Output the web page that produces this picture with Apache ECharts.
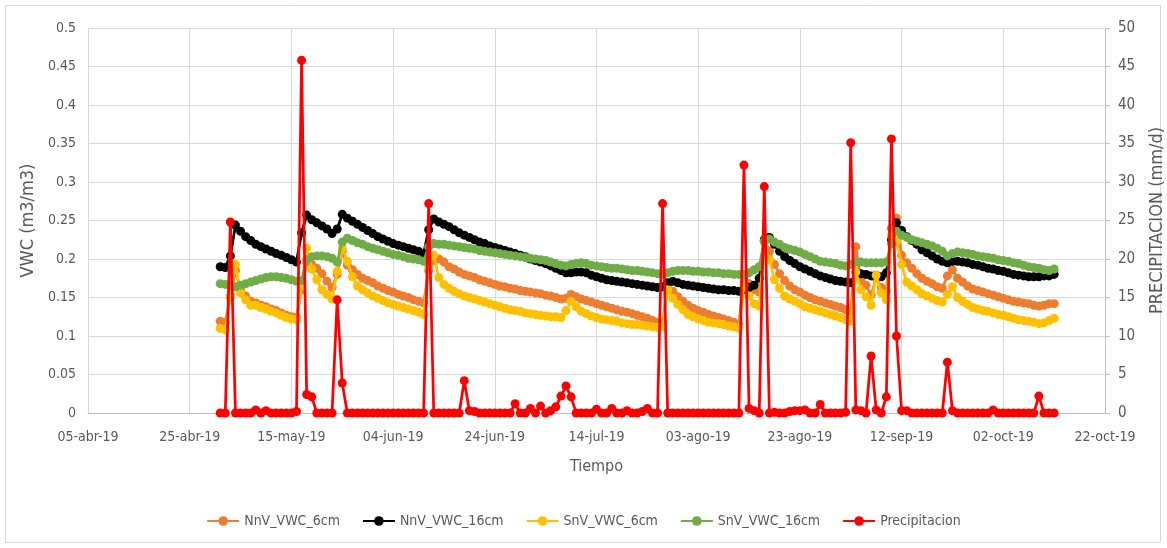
<!DOCTYPE html>
<html>
<head>
<meta charset="utf-8">
<script src="https://cdn.jsdelivr.net/npm/echarts@6/dist/echarts.min.js"></script>
<style>
html,body{margin:0;padding:0;background:#fff;}
#chart{width:1167px;height:548px;}
</style>
</head>
<body>
<div id="chart"></div>
<script>
// Axis origin and first data day
const axisStart = '2019-04-05';
const dataStart = '2019-05-01';

// x tick labels (every 20 days from axisStart)
const xTickLabels = ['05-abr-19','25-abr-19','15-may-19','04-jun-19','24-jun-19','14-jul-19','03-ago-19','23-ago-19','12-sep-19','02-oct-19','22-oct-19'];

const seriesNames = ['NnV_VWC_6cm','NnV_VWC_16cm','SnV_VWC_6cm','SnV_VWC_16cm','Precipitacion'];

// Daily values from 2019-05-01 to 2019-10-12
const nnv6 = [
0.119,0.118,0.150,0.185,0.160,0.152,0.145,0.143,0.140,0.138,
0.135,0.133,0.130,0.127,0.125,0.124,0.160,0.195,0.193,0.188,
0.181,0.171,0.163,0.180,0.210,0.192,0.186,0.180,0.175,0.172,
0.169,0.165,0.162,0.159,0.157,0.154,0.152,0.150,0.147,0.145,
0.143,0.185,0.198,0.200,0.196,0.190,0.187,0.183,0.180,0.178,
0.176,0.173,0.171,0.169,0.167,0.165,0.164,0.162,0.161,0.159,
0.158,0.157,0.156,0.155,0.153,0.152,0.150,0.148,0.149,0.154,
0.151,0.148,0.146,0.144,0.142,0.140,0.138,0.136,0.134,0.132,
0.131,0.129,0.127,0.125,0.123,0.120,0.118,0.116,0.167,0.158,
0.151,0.145,0.140,0.136,0.133,0.131,0.128,0.126,0.124,0.122,
0.120,0.118,0.115,0.180,0.168,0.160,0.157,0.226,0.210,0.193,
0.181,0.172,0.165,0.160,0.157,0.153,0.150,0.147,0.145,0.143,
0.141,0.139,0.137,0.134,0.132,0.216,0.172,0.166,0.153,0.175,
0.163,0.158,0.240,0.253,0.205,0.195,0.188,0.181,0.175,0.171,
0.168,0.164,0.162,0.178,0.186,0.175,0.170,0.165,0.161,0.159,
0.157,0.155,0.153,0.151,0.149,0.147,0.145,0.144,0.143,0.142,
0.140,0.139,0.140,0.142,0.142];

const nnv16 = [
0.190,0.189,0.204,0.244,0.236,0.229,0.224,0.219,0.216,0.213,
0.210,0.207,0.205,0.202,0.199,0.196,0.234,0.257,0.251,0.247,
0.243,0.239,0.233,0.239,0.258,0.253,0.249,0.245,0.241,0.237,
0.233,0.229,0.226,0.223,0.220,0.218,0.216,0.214,0.212,0.210,
0.207,0.238,0.252,0.248,0.245,0.242,0.238,0.234,0.231,0.228,
0.225,0.222,0.220,0.217,0.215,0.213,0.211,0.209,0.207,0.205,
0.203,0.200,0.198,0.196,0.194,0.191,0.188,0.185,0.182,0.182,
0.183,0.183,0.182,0.179,0.177,0.175,0.173,0.172,0.171,0.170,
0.169,0.168,0.167,0.166,0.165,0.164,0.163,0.164,0.169,0.171,
0.169,0.167,0.166,0.165,0.164,0.163,0.162,0.161,0.160,0.160,
0.159,0.159,0.158,0.160,0.163,0.166,0.175,0.224,0.228,0.219,
0.210,0.203,0.198,0.194,0.190,0.187,0.184,0.181,0.178,0.176,
0.174,0.172,0.171,0.170,0.169,0.183,0.181,0.180,0.178,0.179,
0.177,0.182,0.225,0.247,0.237,0.229,0.224,0.219,0.212,0.208,
0.204,0.200,0.197,0.195,0.197,0.197,0.196,0.195,0.193,0.192,
0.190,0.188,0.187,0.185,0.184,0.182,0.180,0.179,0.178,0.177,
0.177,0.177,0.178,0.178,0.180];

const snv6 = [
0.110,0.108,0.153,0.193,0.156,0.147,0.140,0.140,0.137,0.135,
0.132,0.130,0.127,0.124,0.122,0.121,0.165,0.214,0.187,0.173,
0.160,0.154,0.148,0.184,0.214,0.197,0.177,0.165,0.160,0.156,
0.152,0.149,0.146,0.143,0.141,0.139,0.137,0.135,0.133,0.131,
0.128,0.190,0.205,0.176,0.167,0.162,0.158,0.155,0.152,0.150,
0.148,0.146,0.144,0.142,0.140,0.138,0.136,0.134,0.133,0.132,
0.130,0.129,0.128,0.127,0.126,0.125,0.125,0.124,0.133,0.145,
0.138,0.132,0.129,0.126,0.124,0.122,0.121,0.120,0.119,0.117,
0.116,0.115,0.115,0.114,0.113,0.112,0.111,0.112,0.160,0.149,
0.141,0.134,0.128,0.125,0.122,0.120,0.118,0.117,0.116,0.115,
0.113,0.112,0.110,0.165,0.152,0.142,0.139,0.222,0.199,0.173,
0.162,0.152,0.148,0.145,0.142,0.138,0.136,0.134,0.132,0.130,
0.128,0.126,0.124,0.121,0.119,0.183,0.160,0.151,0.140,0.179,
0.156,0.147,0.230,0.223,0.193,0.170,0.165,0.160,0.155,0.152,
0.149,0.146,0.144,0.154,0.164,0.150,0.145,0.141,0.137,0.135,
0.133,0.132,0.130,0.128,0.127,0.125,0.123,0.121,0.120,0.119,
0.118,0.116,0.117,0.120,0.123];

const snv16 = [
0.168,0.167,0.165,0.164,0.166,0.168,0.170,0.172,0.174,0.176,
0.177,0.177,0.176,0.175,0.173,0.171,0.172,0.199,0.203,0.204,
0.204,0.203,0.201,0.196,0.222,0.227,0.224,0.221,0.219,0.216,
0.214,0.212,0.210,0.208,0.206,0.205,0.203,0.201,0.200,0.199,
0.197,0.216,0.220,0.219,0.219,0.218,0.217,0.216,0.215,0.214,
0.213,0.211,0.210,0.209,0.208,0.207,0.206,0.205,0.204,0.203,
0.202,0.201,0.200,0.199,0.198,0.196,0.194,0.192,0.191,0.193,
0.194,0.195,0.194,0.192,0.191,0.190,0.189,0.188,0.188,0.187,
0.186,0.185,0.185,0.184,0.183,0.182,0.181,0.180,0.182,0.184,
0.185,0.185,0.185,0.184,0.184,0.183,0.183,0.182,0.182,0.181,
0.181,0.180,0.180,0.179,0.182,0.186,0.190,0.223,0.226,0.222,
0.219,0.215,0.213,0.211,0.209,0.206,0.203,0.200,0.197,0.196,
0.195,0.194,0.192,0.191,0.193,0.196,0.196,0.195,0.195,0.195,
0.195,0.196,0.220,0.236,0.231,0.228,0.225,0.223,0.221,0.219,
0.217,0.214,0.210,0.204,0.207,0.209,0.208,0.207,0.206,0.204,
0.203,0.202,0.201,0.199,0.198,0.197,0.195,0.194,0.192,0.190,
0.189,0.188,0.186,0.185,0.187];

const precip = [
0,0,24.8,0,0,0,0,0.4,0,0.3,
0,0,0,0,0,0.2,45.8,2.4,2.1,0,
0,0,0,14.7,3.9,0,0,0,0,0,
0,0,0,0,0,0,0,0,0,0,
0,27.2,0,0,0,0,0,0,4.2,0.3,
0.2,0,0,0,0,0,0,0,1.2,0,
0,0.6,0,0.9,0,0.3,0.8,2.2,3.5,2.1,
0,0,0,0,0.5,0,0,0.6,0,0,
0.3,0,0,0.2,0.6,0,0,27.2,0,0,
0,0,0,0,0,0,0,0,0,0,
0,0,0,32.2,0.6,0.3,0,29.4,0,0.1,
0,0,0.2,0.3,0.3,0.4,0,0,1.1,0,
0,0,0,0.1,35.1,0.4,0.3,0,7.4,0.4,
0,2.1,35.6,10.0,0.3,0.3,0,0,0,0,
0,0,0,6.6,0.3,0,0,0,0,0,
0,0,0.4,0,0,0,0,0,0,0,
0,2.2,0,0,0];

const colors = ['#ED7D31','#000000','#FFC000','#70AD47','#FF0000'];

const DAY = 86400000;
const offset0 = Math.round((Date.parse(dataStart) - Date.parse(axisStart)) / DAY);
function pairs(arr){ return arr.map((v,i)=>[offset0+i, v]); }

const FONT = "'Liberation Sans Narrow','DejaVu Sans Condensed',sans-serif";
const TXT = '#595959';

const chart = echarts.init(document.getElementById('chart'), null, {renderer:'canvas'});
const allData = [nnv6, nnv16, snv6, snv16, precip];
const series = allData.map((arr, k) => ({
  name: seriesNames[k],
  type: 'line',
  yAxisIndex: k === 4 ? 1 : 0,
  data: pairs(arr),
  symbol: 'circle',
  symbolSize: 9,
  showAllSymbol: true,
  lineStyle: {width: 2.75, color: colors[k]},
  itemStyle: {color: colors[k]},
  z: 2 + k,
  animation: false
}));

chart.setOption({
  animation: false,
  textStyle: {fontFamily: FONT},
  graphic: [{
    type: 'rect', silent: true,
    shape: {x: 5.5, y: 5.5, width: 1155, height: 537},
    style: {fill: 'none', stroke: '#d9d9d9', lineWidth: 1}
  }],
  grid: {left: 88, right: 62, top: 28, bottom: 135, containLabel: false, outerBoundsMode: 'none'},
  legend: {
    bottom: 15, left: 'center',
    itemWidth: 32, itemHeight: 12, itemGap: 22,
    textStyle: {color: TXT, fontSize: 14, fontFamily: FONT},
    data: seriesNames
  },
  xAxis: {
    type: 'value', min: 0, max: 200, interval: 20,
    name: 'Tiempo', nameLocation: 'middle', nameGap: 46,
    nameTextStyle: {color: TXT, fontSize: 16, fontFamily: FONT},
    axisLine: {show: true, lineStyle: {color: '#bfbfbf', width: 1}},
    axisTick: {show: false},
    splitLine: {show: true, lineStyle: {color: '#d9d9d9', width: 1}},
    axisLabel: {
      color: TXT, fontSize: 14, margin: 17, fontFamily: FONT,
      formatter: v => xTickLabels[Math.round(v / 20)] || ''
    }
  },
  yAxis: [{
    type: 'value', min: 0, max: 0.5, interval: 0.05,
    name: 'VWC (m3/m3)', nameLocation: 'middle', nameGap: 44, nameRotate: 90,
    nameTextStyle: {color: TXT, fontSize: 18, fontFamily: FONT},
    axisLine: {show: false}, axisTick: {show: false},
    splitLine: {show: true, lineStyle: {color: '#d9d9d9', width: 1}},
    axisLabel: {color: TXT, fontSize: 14, margin: 12, fontFamily: FONT,
      formatter: v => String(Math.round(v * 100) / 100)}
  }, {
    type: 'value', min: 0, max: 50, interval: 5, position: 'right',
    name: 'PRECIPITACION (mm/d)', nameLocation: 'middle', nameGap: 43, nameRotate: 90,
    nameMoveOverlap: false,
    nameTextStyle: {color: TXT, fontSize: 18, fontFamily: FONT},
    axisLine: {show: true, lineStyle: {color: '#bfbfbf', width: 1}},
    axisTick: {show: true, length: 5, lineStyle: {color: '#bfbfbf'}},
    splitLine: {show: false},
    axisLabel: {color: TXT, fontSize: 15, margin: 13, fontFamily: FONT}
  }],
  series: series
});
</script>
</body>
</html>
